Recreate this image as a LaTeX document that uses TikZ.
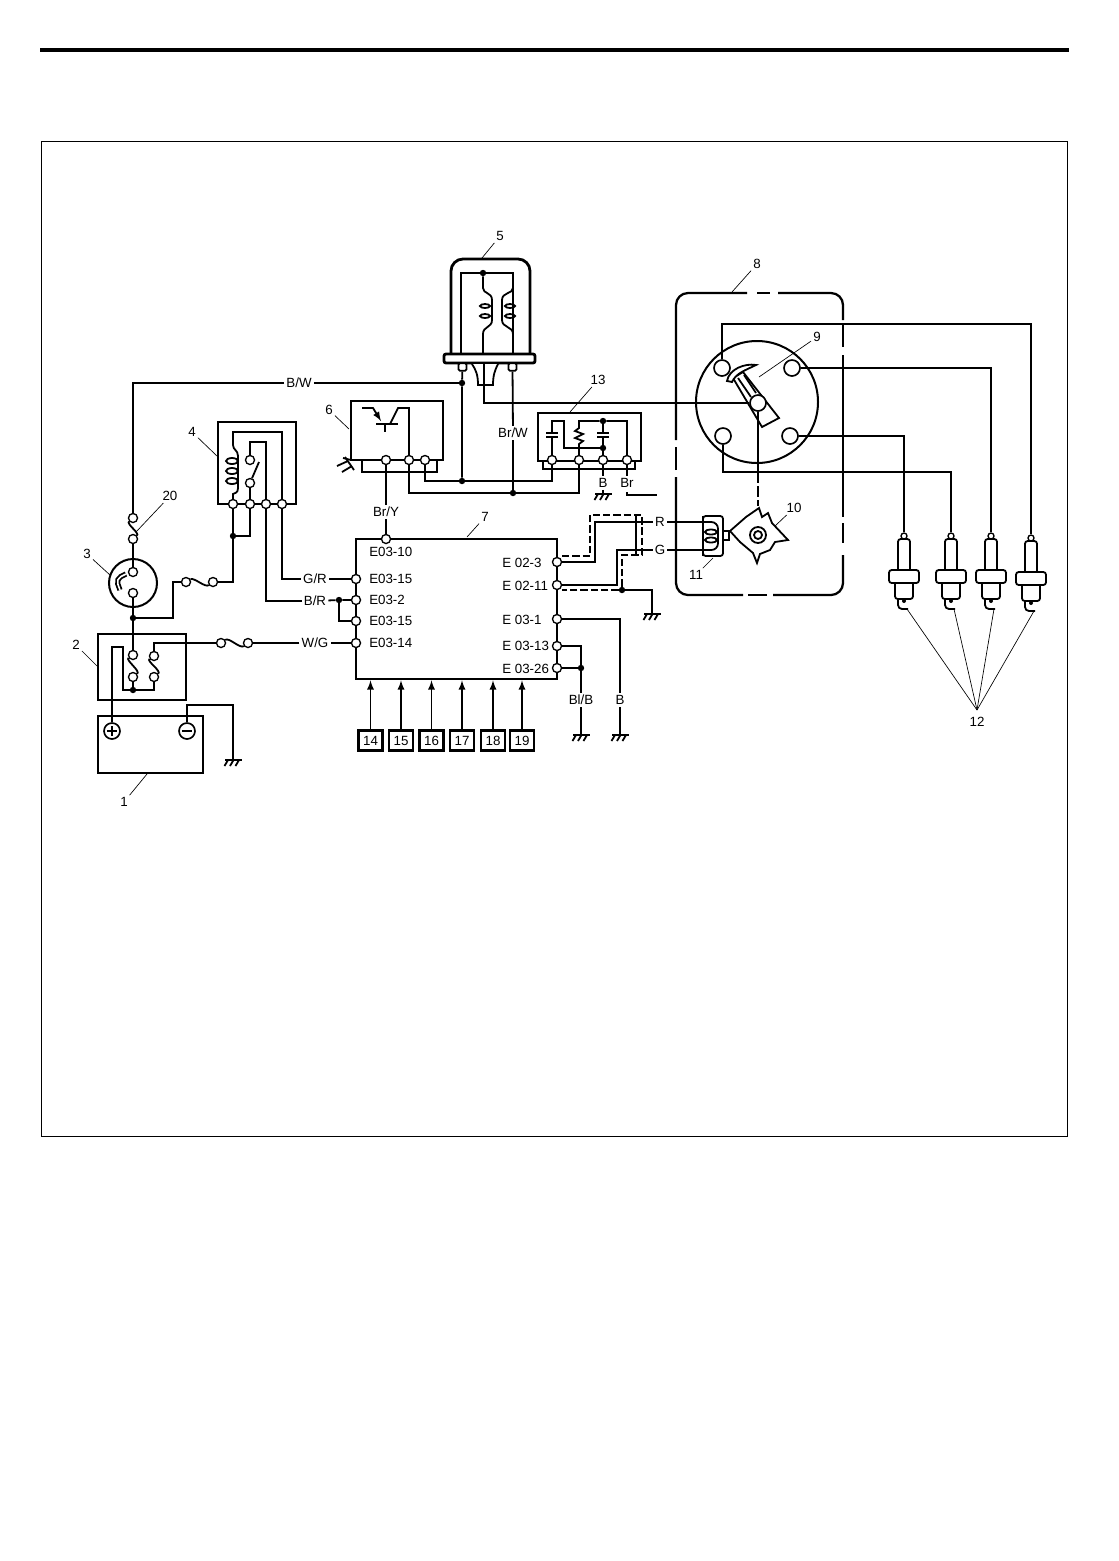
\documentclass[tikz,border=0pt]{standalone}
\usepackage{fontspec}
\setmainfont{Liberation Sans}
\usetikzlibrary{arrows}
\usetikzlibrary{fit}
\tikzset{
	wire/.style={line width=1.35pt},
	box/.style={draw, line width=2.1pt, inner sep=0pt},
	heavy/.style={line width=2.1pt},
	term/.style={circle, draw, fill=white, line width=1pt, inner sep=0pt, minimum size=6.8pt},
	junc/.style={circle, fill=black, inner sep=0pt, minimum size=4.8pt},
	lbl/.style={inner sep=1.5pt, font=\fontsize{10}{12}\selectfont},
	pin/.style={lbl, anchor=west, inner sep=0pt},
	leader/.style={line width=0.5pt},
	shield/.style={line width=1.35pt, dash pattern=on 5.5pt off 2.2pt},
	casing/.style={line width=1.7pt, rounded corners=9pt},
}
\newcommand{\grnd}[1]{
	\draw [wire] (#1) ++(-8,0) -- ++(17,0);
	\foreach \k in {-5,0.5,6} {\draw [wire] (#1) ++(\k,0) -- ++(-3.5,6);}
}

\begin{document}
\begin{tikzpicture}[x=0.75pt, y=-0.75pt]
	\useasboundingbox (0,0) rectangle (1119,1561);
	\draw [line width=3pt] (40,50) -- (1069,50);
	\draw [line width=0.7pt] (41,141) rectangle (1067,1136);

	% boxes
	\node [box, fit={(98,716) (203,773)}] (bat) {};
	\node [box, fit={(98,634) (186,700)}] (fusebox) {};
	\node [box, fit={(218,422) (296,504)}] (relay) {};
	\node [box, fit={(351,401) (443,460)}] (igniter) {};
	\node [box, fit={(538,413) (641,461)}] (filter) {};
	\node [box, fit={(356,539) (557,679)}] (ecm) {};
	\draw [heavy, rounded corners=9pt] (451,354) |- (530,259) -- (530,354);
	\node [box, fill=white, rounded corners=1.5pt, fit={(444,354) (535,363)}] (flange) {};

	% distributor casing
	\draw [casing] (778,293) -- (843,293) -- (843,320);
	\draw [casing] (843,325) -- (843,347);
	\draw [casing] (843,355) -- (843,517);
	\draw [casing] (843,523) -- (843,543);
	\draw [casing] (843,555) -- (843,595) -- (773,595);
	\draw [casing] (767,595) -- (748,595);
	\draw [casing] (743,595) -- (676,595) -- (676,477);
	\draw [casing] (676,470) -- (676,447);
	\draw [casing] (676,440) -- (676,293) -- (747,293);
	\draw [casing] (757,293) -- (770,293);
	\draw [line width=1.5pt] (757,402) circle (61);

	% lower plates of igniter and filter
	\draw [wire] (362,460) |- (437,472) -- (437,460);
	\draw [wire] (543,461) |- (635,469) -- (635,461);

	% rotor arm
	\draw [wire, fill=white] (733,378) -- (743,372) -- (779,418) -- (762,427) -- cycle;
	\draw [wire, fill=white] (727,381) .. controls (729,369) and (745,363) .. (756,365) .. controls (746,370) and (736,373) .. (732,382) -- cycle;
	\draw [wire] (738,378) -- (751,397);
	\draw [wire] (744,375) -- (756,393);

	% terminals
	\foreach \nm/\x/\y in {f20a/133/518, f20b/133/539, t3a/133/572, t3b/133/593,
		f2a/186/582, f2b/213/582, f1a/221/643, f1b/248/643,
		t2a/133/655, t2b/133/677, t2c/154/656, t2d/154/677,
		t4a/233/504, t4b/250/504, t4c/266/504, t4d/282/504, k4a/250/483, k4b/250/460,
		t6a/386/460, t6b/409/460, t6c/425/460,
		t13a/552/460, t13b/579/460, t13c/603/460, t13d/627/460,
		e10/386/539, e15a/356/579, e2/356/600, e15b/356/621, e14/356/643,
		e23/557/562, e211/557/585, e31/557/619, e313/557/646, e326/557/668} {
		\node [term] (\nm) at (\x,\y) {};
	}
	\foreach \nm/\x/\y in {t9a/722/368, t9b/792/368, t9c/723/436, t9d/790/436, rc/758/403} {
		\node [term, line width=1.25pt, minimum size=12pt] (\nm) at (\x,\y) {};
	}
	\node [term, line width=1.25pt, minimum size=12pt] (batp) at (112,731) {};
	\node [term, line width=1.25pt, minimum size=12pt] (batm) at (187,731) {};
	\draw [wire] (107,731) -- (117,731) (112,726) -- (112,736);
	\draw [wire] (182,731) -- (192,731);

	% junctions
	\foreach \nm/\x/\y in {j3/133/618, j2/133/690, j4/233/536, j7/339/600, jb/462/383,
		jc/462/481, jd/513/493, jt/483/273, jf/603/421, jg/603/448, je/622/590, jh/581/668} {
		\node [junc] (\nm) at (\x,\y) {};
	}

	% wire labels
	\node [lbl] (lbw) at (299,383) {B/W};
	\node [lbl] (lgr) at (315,579) {G/R};
	\node [lbl] (lbr) at (315,601) {B/R};
	\node [lbl] (lwg) at (315,643) {W/G};
	\node [lbl] (lbrw) at (513,433) {Br/W};
	\node [lbl] (lbry) at (386,512) {Br/Y};
	\node [lbl] (lb) at (603,483) {B};
	\node [lbl] (lbn) at (627,483) {Br};
	\node [lbl] (lr) at (660,522) {R};
	\node [lbl] (lg) at (660,550) {G};
	\node [lbl] (lblb) at (581,700) {Bl/B};
	\node [lbl] (lbb) at (620,700) {B};

	% pin names of the module
	\node [pin] (p10) at (369,552) {E03-10};
	\node [pin] (p15a) at (369,579) {E03-15};
	\node [pin] (p2) at (369,600) {E03-2};
	\node [pin] (p15b) at (369,621) {E03-15};
	\node [pin] (p14) at (369,643) {E03-14};
	\node [pin] (q3) at (502,563) {E 02-3};
	\node [pin] (q11) at (502,586) {E 02-11};
	\node [pin] (q1) at (502,620) {E 03-1};
	\node [pin] (q13) at (502,646) {E 03-13};
	\node [pin] (q26) at (502,669) {E 03-26};

	% numbered inputs
	\foreach \lab/\x in {14/370.5, 15/401, 16/431.5, 17/462, 18/493, 19/522} {
		\node [draw, line width=1.6pt, lbl, minimum width=18pt, minimum height=15pt, inner sep=0pt] (b\lab) at (\x,740.5) {\lab};
		\draw [wire, -latex] (b\lab) -- (b\lab |- ecm.south);
	}

	% callouts
	\foreach \lab/\lx/\ly/\tx/\ty in {1/124/802/147/774, 2/76/645/97/666, 3/87/554/110/575,
		4/192/432/217/456, 5/500/236/482/258, 6/329/410/349/429, 7/485/517/467/537,
		8/757/264/732/292, 9/817/337/759/377, 10/794/508/775/526, 11/696/575/713/558,
		13/598/380/570/412, 20/170/496/136/532} {
		\node [lbl] (n\lab) at (\lx,\ly) {\lab};
		\coordinate (tp\lab) at (\tx,\ty);
		\draw [leader] (n\lab) -- (tp\lab);
	}

	% ignition coil
	\draw [wire] (461,354) |- (jt);
	\draw [wire] (jt) -| (513,354);
	\draw [wire] (jt) -- (483,288) .. controls (483,294) and (492,292) .. (492,300) -- (492,320) .. controls (492,328) and (483,326) .. (483,334) -- (483,354);
	\draw [wire] (513,288) .. controls (513,294) and (502,292) .. (502,300) -- (502,320) .. controls (502,328) and (513,326) .. (513,334);
	\foreach \x in {485,510} {
		\draw [wire] (\x,306) ellipse (5 and 2);
		\draw [wire] (\x,316) ellipse (5 and 2);
	}
	\node [draw, fill=white, wire, rounded corners=1pt, inner sep=0pt, minimum width=6pt, minimum height=5.5pt] (t5a) at (462.5,367) {};
	\node [draw, fill=white, wire, rounded corners=1pt, inner sep=0pt, minimum width=6pt, minimum height=5.5pt] (t5b) at (512.5,367) {};
	\draw [wire, fill=white] (472,364) .. controls (476,370) and (478,375) .. (478,385) -- (493,385) .. controls (493,375) and (495,370) .. (498,364);
	\coordinate (c5a) at (484,364);
	\draw [wire] (c5a) |- (rc);

	% battery and fuse box
	\coordinate (c2a) at (123,647);
	\coordinate (c2b) at (187,705);
	\coordinate (gbat) at (233,760);
	\draw [wire] (t2b) -- (j2);
	\draw [wire] (t2d) |- (j2);
	\draw [wire] (j2) -| (c2a) -| (batp);
	\draw [wire] (t2a) .. controls +(-8,5) and +(8,-6) .. (t2b);
	\draw [wire] (t2c) .. controls +(-8,5) and +(8,-6) .. (t2d);
	\draw [wire] (batm) -- (c2b) -| (gbat);
	\grnd{gbat}

	% main switch and relay feed
	\coordinate (c3a) at (173,582);
	\draw [wire] (lbw) -| (f20a);
	\draw [wire] (lbw) -- (jb);
	\draw [wire] (f20a) .. controls +(-7,6) and +(7,-6) .. (f20b);
	\draw [wire] (f20b) -- (t3a);
	\draw [wire] (t3b) -- (j3) -- (t2a);
	\draw [line width=1.5pt] (133,583) circle (24);
	\draw [wire, double, double distance=1.2pt, rounded corners=4pt] (120,590) -- (116,579) -- (126,574);
	\draw [wire] (j3) -| (c3a) -- (f2a);
	\draw [wire] (f2a) .. controls +(8,-5) and +(-8,6) .. (f2b);
	\draw [wire] (f2b) -| (j4);
	\draw [wire] (j4) -- (t4a);
	\draw [wire] (j4) -| (t4b);

	% relay inside
	\coordinate (c4a) at (233,432);
	\coordinate (c4b) at (266,442);
	\coordinate (c4c) at (259,462);
	\draw [wire] (t4a) -- (233,494) .. controls (238,492) .. (238,484) -- (238,456) .. controls (238,450) and (233,450) .. (233,445) -- (c4a) -| (t4d);
	\foreach \y in {461,471,481} {\draw [wire] (232,\y) ellipse (6 and 3);}
	\draw [wire] (t4b) -- (k4a) -- (c4c);
	\draw [wire] (k4b) |- (c4b) -- (t4c);
	\draw [wire] (t4d) |- (lgr);
	\draw [wire] (lgr) -- (e15a);
	\draw [wire] (t4c) |- (lbr);
	\draw [wire] (lbr) -- (j7) -- (e2);
	\draw [wire] (j7) |- (e15b);
	\draw [wire] (e14) -- (lwg) -- (f1b);
	\draw [wire] (f1b) .. controls +(-8,6) and +(8,-6) .. (f1a);
	\draw [wire] (f1a) -| (t2c);

	% igniter
	\coordinate (ca) at (362,408);
	\coordinate (cb) at (409,408);
	\draw [wire, -latex] (ca) -- (373,408) -- (381,421);
	\draw [heavy] (376,424) -- (398,424);
	\draw [wire] (385,424) -- (385,432);
	\draw [wire] (390,424) -- (398,408) -- (cb) -- (t6b);
	\draw [wire] (351,460) -- (343,458);
	\draw [wire] (345,457) -- (354,470);
	\draw [wire] (348,461) -- (337,466);
	\draw [wire] (352,466) -- (342,472);
	\draw [wire] (t6a) -- (lbry);
	\draw [wire] (lbry) -- (e10);

	% coil feed
	\draw [wire] (t5a) -- (jb) -- (jc);
	\draw [wire] (t5b) -- (lbrw);
	\draw [wire] (lbrw) -- (jd);
	\draw [wire] (t6c) |- (jc);
	\draw [wire] (jc) -| (t13a);
	\draw [wire] (t6b) |- (jd);
	\draw [wire] (jd) -| (t13b);

	% noise filter
	\coordinate (cf) at (552,421);
	\coordinate (cg) at (564,421);
	\coordinate (ch) at (579,421);
	\coordinate (ci) at (627,421);
	\coordinate (cj) at (627,492);
	\coordinate (ck) at (657,495);
	\coordinate (gb) at (603,494);
	\draw [wire] (t13a) -- (552,437) (552,433) -- (cf) -- (cg) |- (jg);
	\draw [wire] (546,433) -- (558,433) (546,437) -- (558,437);
	\draw [wire] (597,433) -- (609,433) (597,437) -- (609,437);
	\draw [wire] (jf) -- (603,433) (603,437) -- (jg) -- (t13c);
	\draw [wire] (t13b) -- (579,444) -- (583,441) -- (575,438) -- (583,434) -- (575,431) -- (579,428) -- (ch) -- (jf) -| (t13d);
	\draw [wire] (t13c) -- (lb);
	\draw [wire] (lb) -- (gb);
	\grnd{gb}
	\draw [wire] (t13d) -- (lbn);
	\draw [wire] (cj) |- (ck);

	% pickup lines and shield
	\coordinate (c7a) at (595,522);
	\coordinate (c7b) at (617,550);
	\coordinate (c7c) at (703,522);
	\coordinate (c7d) at (703,550);
	\coordinate (s0) at (562,556);
	\coordinate (s1) at (590,515);
	\coordinate (s2) at (642,555);
	\coordinate (s3) at (562,590);
	\coordinate (s4) at (636,515);
	\coordinate (s5) at (636,556);
	\coordinate (ge) at (652,614);
	\draw [wire] (e23) -| (c7a) -- (lr);
	\draw [wire] (e211) -| (c7b) -- (lg);
	\draw [wire] (lr) -- (c7c);
	\draw [wire] (lg) -- (c7d);
	\draw [wire] (s4) -- (s5);
	\draw [shield] (s0) -| (s1) -| (s2) -| (je);
	\draw [shield] (je) -- (s3);
	\draw [wire] (je) -| (ge);
	\grnd{ge}

	% grounds under the module
	\coordinate (gc) at (581,735);
	\coordinate (gd) at (620,735);
	\draw [wire] (e31) -| (lbb);
	\draw [wire] (lbb) -- (gd);
	\grnd{gd}
	\draw [wire] (e313) -| (jh);
	\draw [wire] (e326) -- (jh) -- (lblb);
	\draw [wire] (lblb) -- (gc);
	\grnd{gc}

	% pickup coil and signal rotor
	\draw [wire, rounded corners=2pt] (703,516) rectangle (723,556);
	\draw [heavy] (703,516) -- (703,556);
	\draw [wire, rounded corners=5pt] (c7c) -- (718,522) -- (718,550) -- (c7d);
	\draw [wire] (711,532) ellipse (6 and 2.5);
	\draw [wire] (711,540) ellipse (6 and 2.5);
	\draw [wire] (723,531) -- (729,531) -- (729,540) -- (723,540);
	\draw [wire] (730,531) -- (746,517) -- (759,508) -- (762,517) -- (768,513) -- (772,523) -- (788,540) -- (775,542) -- (770,550) -- (760,554) -- (757,563) -- (753,553) -- (740,542) -- cycle;
	\draw [wire] (758,535) circle (8);
	\draw [wire] (758,535) circle (4);

	% plugs
	\foreach \i/\x/\y in {1/904/536, 2/951/536, 3/991/536, 4/1031/538} {
		\begin{scope}[shift={(\x,\y)}]
			\node [term, minimum size=4.5pt] (pg\i) at (0,0) {};
			\coordinate (st\i) at (3,73);
			\draw [wire, rounded corners=2pt] (-6,34) -- (-6,3) -- (6,3) -- (6,34);
			\draw [wire, rounded corners=2pt, fill=white] (-15,34) rectangle (15,47);
			\draw [wire, rounded corners=2pt] (-9,47) -- (-9,63) -- (9,63) -- (9,47);
			\draw [wire, rounded corners=3pt] (-6,63) -- (-6,73) -- (4,73);
			\fill (0,65) circle (2);
		\end{scope}
	}
	\coordinate (c9a) at (1031,324);
	\coordinate (c9c) at (951,472);
	\coordinate (c8a) at (758,472);
	\coordinate (c8b) at (758,506);
	\draw [wire] (t9a) |- (c9a) -- (pg4);
	\draw [wire] (t9b) -| (pg3);
	\draw [wire] (t9d) -| (pg1);
	\draw [wire] (t9c) |- (c9c) -- (pg2);
	\draw [wire] (rc) -- (c8a);
	\draw [wire, dash pattern=on 8pt off 2.5pt] (c8a) -- (c8b);

	% label of the plugs
	\node [lbl] (n12) at (977,722) {12};
	\coordinate (tp12) at (977,710);
	\foreach \i in {1,...,4} {
		\draw [leader] (tp12) -- (st\i);
	}
\end{tikzpicture}
\end{document}
